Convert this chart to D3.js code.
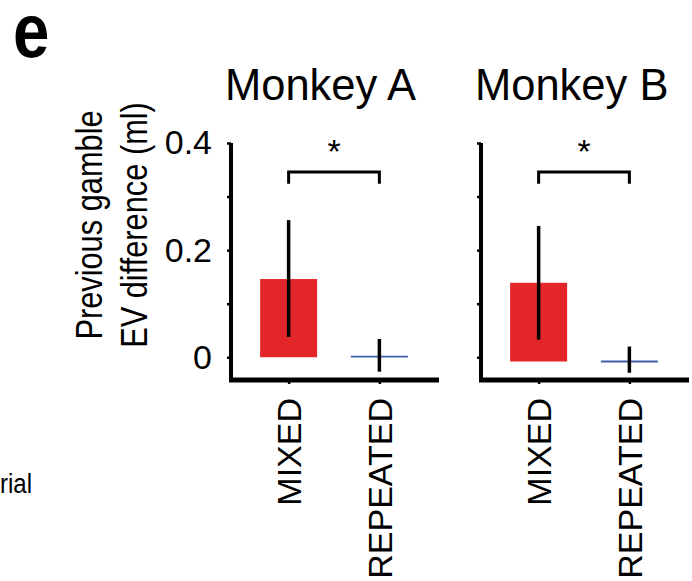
<!DOCTYPE html>
<html>
<head>
<meta charset="utf-8">
<script src="https://cdn.jsdelivr.net/npm/d3@7"></script>
<style>
  html, body { margin: 0; padding: 0; background: #fff; }
  svg { display: block; font-family: "Liberation Sans", Arial, Helvetica, sans-serif; }
</style>
</head>
<body>
<svg id="chart" width="692" height="581"></svg>
<script>
// Previous-gamble EV difference after MIXED vs REPEATED trials, per monkey
const monkeys = ["Monkey A", "Monkey B"];
const categories = ["MIXED", "REPEATED"];

const mixedMean     = [0.146, 0.139];
const mixedErrLow   = [0.038, 0.033];
const mixedErrHigh  = [0.256, 0.245];
const repeatedMean    = [0.001, -0.008];
const repeatedErrLow  = [-0.027, -0.029];
const repeatedErrHigh = [0.034, 0.020];
const barBase = [0, -0.008];

const significance = ["*", "*"];
const yTicks = [0, 0.1, 0.2, 0.3, 0.4];
const yTickLabels = ["0", "", "0.2", "", "0.4"];

const svg = d3.select("#chart");
const RED = "#e3262a";
const BLUE = "#3f5fa8";

// shared vertical scale
const y = d3.scaleLinear().domain([-0.0425, 0.4]).range([380, 143]);

const panelLeft = [231, 481];
const panelWidth = 208;

// panel letter
svg.append("text")
  .attr("transform", "translate(13,57) scale(0.86,1)")
  .attr("font-weight", "bold")
  .attr("font-size", 76)
  .attr("fill", "#000")
  .text("e");

// fragment of neighbouring panel text
svg.append("text")
  .attr("transform", "translate(0,493) scale(0.86,1)")
  .attr("font-size", 28)
  .attr("fill", "#000")
  .text("rial");

// y-axis title (two lines, condensed)
const yTitle = ["Previous gamble", "EV difference (ml)"];
const yTitleX = [102, 147];
yTitle.forEach((t, i) => {
  svg.append("text")
    .attr("transform", `translate(${yTitleX[i]},225) rotate(-90) scale(0.855,1)`)
    .attr("text-anchor", "middle")
    .attr("font-size", 36)
    .attr("fill", "#000")
    .text(t);
});

monkeys.forEach((name, p) => {
  const left = panelLeft[p];
  const g = svg.append("g");

  const x = d3.scalePoint()
    .domain(categories)
    .range([left, left + 206])
    .padding(0.635);
  const barW = 57;

  // title
  g.append("text")
    .attr("x", left - 6).attr("y", 100)
    .attr("font-size", 43.5)
    .attr("fill", "#000")
    .text(name);

  // MIXED bar
  g.append("rect")
    .attr("x", x("MIXED") - barW / 2)
    .attr("width", barW)
    .attr("y", y(mixedMean[p]))
    .attr("height", y(barBase[p]) - y(mixedMean[p]))
    .attr("fill", RED);

  // REPEATED mean as a thin line
  g.append("line")
    .attr("x1", x("REPEATED") - barW / 2).attr("x2", x("REPEATED") + barW / 2)
    .attr("y1", y(repeatedMean[p])).attr("y2", y(repeatedMean[p]))
    .attr("stroke", BLUE).attr("stroke-width", 1.8);

  // error bars
  const errs = [
    { c: "MIXED", lo: mixedErrLow[p], hi: mixedErrHigh[p] },
    { c: "REPEATED", lo: repeatedErrLow[p], hi: repeatedErrHigh[p] }
  ];
  g.selectAll("line.err").data(errs).enter().append("line")
    .attr("class", "err")
    .attr("x1", d => x(d.c)).attr("x2", d => x(d.c))
    .attr("y1", d => y(d.lo)).attr("y2", d => y(d.hi))
    .attr("stroke", "#000").attr("stroke-width", 3.5);

  // significance bracket
  const bracketLevel = 0.346, legLevel = 0.324;
  g.append("path")
    .attr("d", d3.line()([
      [x("MIXED"), y(legLevel)], [x("MIXED"), y(bracketLevel)],
      [x("REPEATED"), y(bracketLevel)], [x("REPEATED"), y(legLevel)]
    ]))
    .attr("fill", "none").attr("stroke", "#000").attr("stroke-width", 3);
  g.append("text")
    .attr("x", (x("MIXED") + x("REPEATED")) / 2).attr("y", 163)
    .attr("text-anchor", "middle")
    .attr("font-size", 34)
    .attr("fill", "#000")
    .text(significance[p]);

  // y axis
  const yAxis = d3.axisLeft(y)
    .tickValues(yTicks)
    .tickSize(4).tickSizeOuter(0).tickPadding(15)
    .tickFormat((d, i) => p === 0 ? yTickLabels[i] : "");
  const ya = g.append("g").attr("transform", `translate(${left},0)`).call(yAxis);
  ya.select(".domain").attr("stroke", "#000").attr("stroke-width", 4)
    .attr("d", `M0,${y.range()[0]}V${y.range()[1]}`);
  ya.selectAll(".tick line").attr("stroke", "#000").attr("stroke-width", 2.5);
  ya.selectAll(".tick text").attr("font-size", 34).attr("fill", "#000")
    .attr("font-family", "Liberation Sans, Arial, sans-serif");

  // x axis
  const xAxis = d3.axisBottom(x).tickSize(4).tickSizeOuter(0);
  const xa = g.append("g").attr("transform", `translate(0,${y.range()[0]})`).call(xAxis);
  xa.select(".domain").attr("stroke", "#000").attr("stroke-width", 5)
    .attr("d", `M${left - 2},0H${left + panelWidth}`);
  xa.selectAll(".tick line").attr("stroke", "#000").attr("stroke-width", 2.5);
  xa.selectAll(".tick text")
    .attr("font-size", 34).attr("fill", "#000")
    .attr("font-family", "Liberation Sans, Arial, sans-serif")
    .attr("text-anchor", "end")
    .attr("transform", "rotate(-90)")
    .attr("x", -18).attr("y", 12).attr("dy", 0);
});
</script>
</body>
</html>
